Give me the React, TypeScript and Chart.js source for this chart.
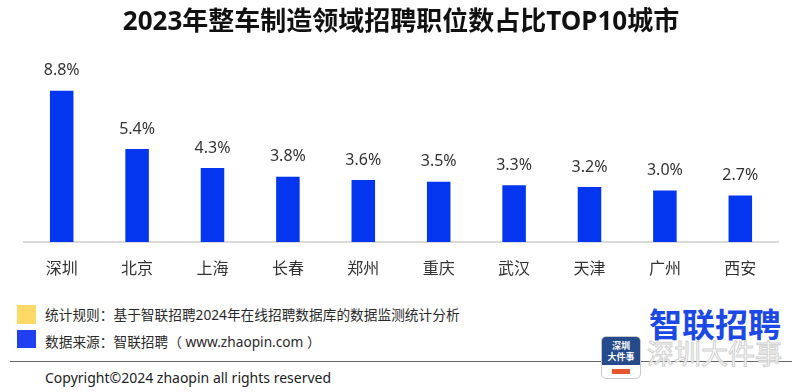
import React, { useEffect, useRef } from "react";
import { Chart, registerables } from "chart.js";

Chart.register(...registerables);

const TITLE = "2023年整车制造领域招聘职位数占比TOP10城市";
const categories = ["深圳", "北京", "上海", "长春", "郑州", "重庆", "武汉", "天津", "广州", "西安"];
const shareValues = [8.8, 5.4, 4.3, 3.8, 3.6, 3.5, 3.3, 3.2, 3.0, 2.7];
const noteLines = [
  "统计规则：基于智联招聘2024年在线招聘数据库的数据监测统计分析",
  "数据来源：智联招聘（ www.zhaopin.com ）",
];
const noteColors = ["#ffd966", "#1f3ff0"];
const COPYRIGHT = "Copyright©2024 zhaopin all rights reserved";

const FONT = '"Noto Sans", "Noto Sans CJK SC", sans-serif';

const valueLabelPlugin = {
  id: "valueLabels",
  afterDatasetsDraw(chart: any) {
    const ctx = chart.ctx;
    const meta = chart.getDatasetMeta(0);
    ctx.save();
    ctx.font = `16px ${FONT}`;
    ctx.fillStyle = "#333333";
    ctx.textAlign = "center";
    ctx.textBaseline = "middle";
    meta.data.forEach((bar: any, i: number) => {
      const v = chart.data.datasets[0].data[i] as number;
      ctx.fillText(v.toFixed(1) + "%", bar.x, bar.y - 20);
    });
    ctx.restore();
  },
};

export default function App() {
  const ref = useRef<HTMLCanvasElement | null>(null);

  useEffect(() => {
    document.body.style.margin = "0";
    if (!ref.current) return;
    Chart.defaults.font.family = FONT;
    const chart = new Chart(ref.current, {
      type: "bar",
      data: {
        labels: categories,
        datasets: [
          {
            data: shareValues,
            backgroundColor: "#0336ee",
            barPercentage: 0.312,
            categoryPercentage: 1,
          },
        ],
      },
      options: {
        animation: false,
        responsive: false,
        layout: { padding: { left: 24, right: 22, top: 0, bottom: 0 } },
        plugins: {
          legend: { display: false },
          tooltip: { enabled: false },
          title: {
            display: true,
            text: TITLE,
            color: "#111111",
            font: { size: 26, weight: "bold", family: FONT },
            padding: { top: 7, bottom: 31.8 },
          },
        },
        scales: {
          x: {
            grid: { display: false, drawTicks: false },
            border: { display: true, color: "#dadada", width: 2 },
            ticks: { color: "#333333", font: { size: 16 }, padding: 18 },
            afterFit: (scale: any) => {
              scale.height = 48;
            },
          },
          y: {
            display: false,
            min: 0,
            max: 10,
          },
        },
      },
      plugins: [valueLabelPlugin],
    });
    return () => chart.destroy();
  }, []);

  return (
    <div style={{ position: "relative", width: 800, height: 392, background: "#fff", overflow: "hidden", fontFamily: FONT }}>
      <canvas ref={ref} width={800} height={290} style={{ position: "absolute", left: 0, top: 0, width: 800, height: 290 }} />
      {noteLines.map((t, i) => (
        <div key={i}>
          <div
            style={{
              position: "absolute",
              left: 17,
              top: 305 + i * 24.5,
              width: 19,
              height: 18.5,
              background: noteColors[i],
            }}
          />
          <div
            style={{
              position: "absolute",
              left: 45,
              top: 305 + i * 27 - 0.5,
              fontSize: 13.7,
              lineHeight: "20px",
              color: "#2a2a2a",
              whiteSpace: "pre",
            }}
          >
            {t}
          </div>
        </div>
      ))}
      <div style={{ position: "absolute", left: 10, top: 361, width: 782, height: 1, background: "#666" }} />
      <div
        style={{
          position: "absolute",
          left: 45,
          top: 368,
          fontSize: 14,
          lineHeight: "20px",
          color: "#222",
          whiteSpace: "nowrap",
        }}
      >
        {COPYRIGHT}
      </div>
      <div
        style={{
          position: "absolute",
          left: 649,
          top: 302,
          fontSize: 33,
          lineHeight: "42px",
          fontWeight: 700,
          color: "#1c49e6",
          whiteSpace: "nowrap",
          fontFamily: '"Noto Sans CJK SC", sans-serif',
        }}
      >
        智联招聘
      </div>
      <div
        style={{
          position: "absolute",
          left: 647,
          top: 337,
          fontSize: 27,
          lineHeight: "32px",
          color: "rgba(255,255,255,0.85)",
          WebkitTextStroke: "1px #d0d0d0",
          whiteSpace: "nowrap",
          fontFamily: '"Noto Sans CJK SC", sans-serif',
        }}
      >
        深圳大件事
      </div>
      <div
        style={{
          position: "absolute",
          left: 601,
          top: 336,
          width: 38,
          height: 41,
          borderRadius: 5,
          background: "#fff",
          border: "1px solid #c8c8c8",
          overflow: "hidden",
        }}
      >
        <div
          style={{
            height: 28,
            background: "#264b8c",
            color: "#fff",
            fontSize: 9,
            lineHeight: "11px",
            fontWeight: 700,
            textAlign: "center",
            paddingTop: 3,
            boxSizing: "border-box",
            fontFamily: '"Noto Sans CJK SC", sans-serif',
          }}
        >
          <div>深圳</div>
          <div>大件事</div>
        </div>
        <div style={{ margin: "4px auto 0", width: 18, height: 5, background: "#e4572e" }} />
      </div>
    </div>
  );
}
